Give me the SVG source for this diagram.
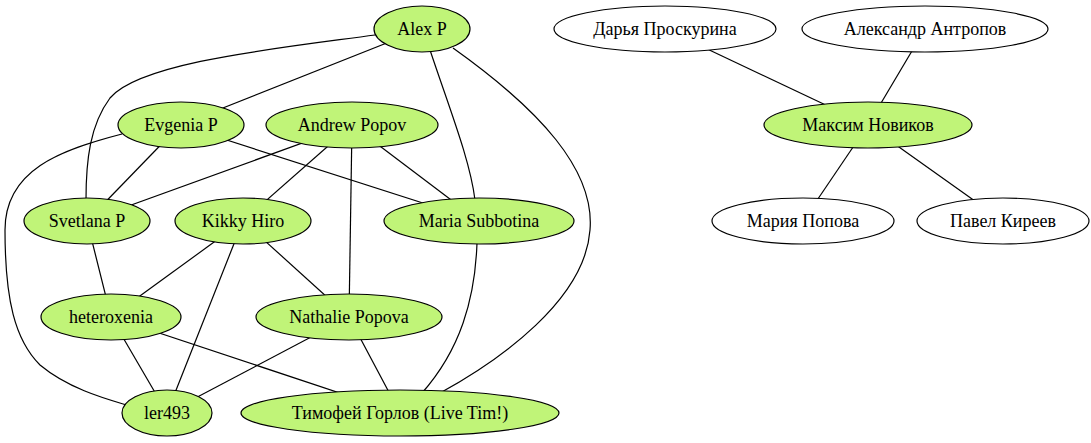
<svg xmlns="http://www.w3.org/2000/svg" width="1091" height="443" viewBox="0 0 1091 443" font-family="'Liberation Serif', 'Times New Roman', Times, serif">
<style>
.e{fill:none;stroke:#000;stroke-width:1.2}
.g ellipse{fill:#c0f478;stroke:#000;stroke-width:1.2}
.w ellipse{fill:#fff;stroke:#000;stroke-width:1.2}
text{font-family:'Liberation Serif','Times New Roman',Times,serif;font-size:18px;text-anchor:middle;fill:#000}
</style>
<rect width="1091" height="443" fill="#fff"/>
<g id="edges">
<path class="e" d="M422,29 L180,125"/>
<path class="e" d="M375,35 C280,48 140,62 110,98 C90,125 86,160 86,200"/>
<path class="e" d="M430,50 C450,110 470,160 475,200"/>
<path class="e" d="M453,48 C540,110 595,170 590,230 C585,300 500,360 440,393"/>
<path class="e" d="M180,125 L87,221"/>
<path class="e" d="M180,125 L479,221"/>
<path class="e" d="M122,134 C60,150 5,170 5,230 C5,300 15,340 40,365 C70,390 110,400 130,406"/>
<path class="e" d="M352,125 L87,221"/>
<path class="e" d="M352,125 L243,221"/>
<path class="e" d="M352,125 L349,317"/>
<path class="e" d="M352,125 L479,221"/>
<path class="e" d="M87,221 L111,317"/>
<path class="e" d="M243,221 L111,317"/>
<path class="e" d="M243,221 L167,413"/>
<path class="e" d="M243,221 L349,317"/>
<path class="e" d="M477,243 C475,300 460,350 422,393"/>
<path class="e" d="M111,317 L167,413"/>
<path class="e" d="M111,317 L400,413"/>
<path class="e" d="M349,317 L167,413"/>
<path class="e" d="M349,317 L400,413"/>
<path class="e" d="M665,29 L868,125"/>
<path class="e" d="M925,29 L868,125"/>
<path class="e" d="M868,125 L803,221"/>
<path class="e" d="M868,125 L1003,221"/>
</g>
<g id="alex-p" class="g"><ellipse cx="422" cy="29" rx="48" ry="23"/><text x="422" y="35">Alex P</text></g>
<g id="evgenia-p" class="g"><ellipse cx="181" cy="125" rx="63" ry="23"/><text x="181" y="131">Evgenia P</text></g>
<g id="andrew-popov" class="g"><ellipse cx="352" cy="125" rx="86" ry="23"/><text x="352" y="131">Andrew Popov</text></g>
<g id="svetlana-p" class="g"><ellipse cx="87" cy="221" rx="63" ry="23"/><text x="87" y="227">Svetlana P</text></g>
<g id="kikky-hiro" class="g"><ellipse cx="243" cy="221" rx="68" ry="23"/><text x="243" y="227">Kikky Hiro</text></g>
<g id="maria-subbotina" class="g"><ellipse cx="479" cy="221" rx="95" ry="23"/><text x="479" y="227">Maria Subbotina</text></g>
<g id="heteroxenia" class="g"><ellipse cx="111" cy="317" rx="70" ry="23"/><text x="111" y="323">heteroxenia</text></g>
<g id="nathalie-popova" class="g"><ellipse cx="349" cy="317" rx="93" ry="23"/><text x="349" y="323">Nathalie Popova</text></g>
<g id="ler493" class="g"><ellipse cx="167" cy="413" rx="45" ry="23"/><text x="167" y="419">ler493</text></g>
<g id="timofey" class="g"><ellipse cx="400" cy="413" rx="159" ry="23"/><text x="400" y="419">Тимофей Горлов (Live Tim!)</text></g>
<g id="darya" class="w"><ellipse cx="665" cy="29" rx="111" ry="23"/><text x="665" y="35">Дарья Проскурина</text></g>
<g id="aleksandr" class="w"><ellipse cx="925" cy="29" rx="123" ry="23"/><text x="925" y="35">Александр Антропов</text></g>
<g id="maksim" class="g"><ellipse cx="868" cy="125" rx="104" ry="23"/><text x="868" y="131">Максим Новиков</text></g>
<g id="mariya" class="w"><ellipse cx="803" cy="221" rx="91" ry="23"/><text x="803" y="227">Мария Попова</text></g>
<g id="pavel" class="w"><ellipse cx="1003" cy="221" rx="86" ry="23"/><text x="1003" y="227">Павел Киреев</text></g>
</svg>
